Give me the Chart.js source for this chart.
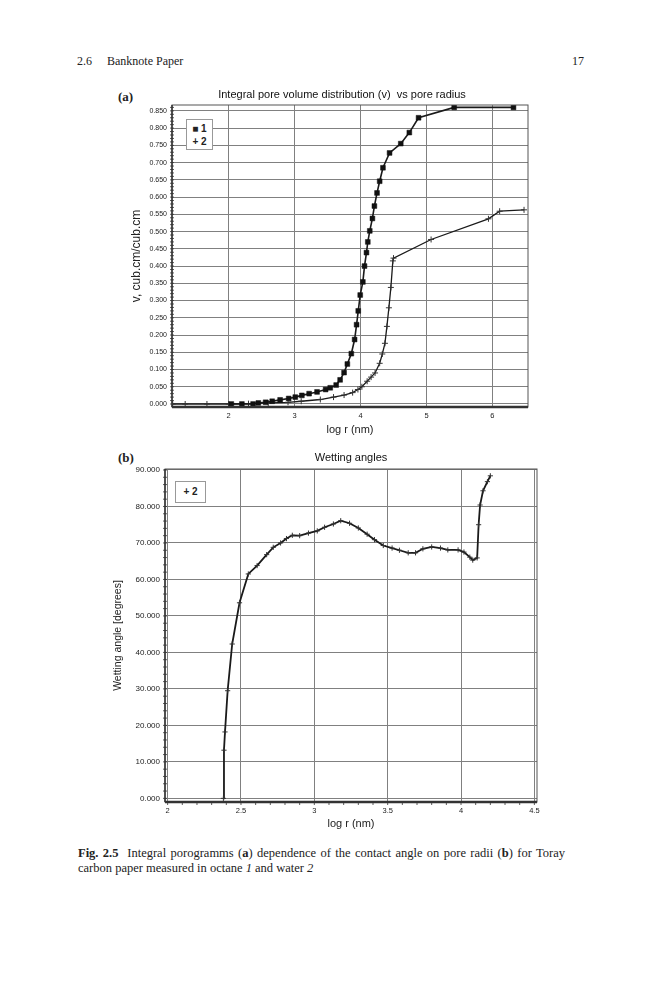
<!DOCTYPE html>
<html>
<head>
<meta charset="utf-8">
<script src="https://cdn.jsdelivr.net/npm/chart.js@4.4.1/dist/chart.umd.min.js"></script>
<style>
  body { margin: 0; background: #fff; }
  #page { position: relative; width: 659px; height: 1000px; overflow: hidden; font-family: "Liberation Serif", "Times New Roman", serif; color: #222; }
  .abs { position: absolute; white-space: nowrap; }
  canvas { position: absolute; }
  .lab { font-weight: bold; font-size: 13px; line-height: 15px; }
  .legend { position: absolute; background: #fff; border: 1px solid #999; font-family: "Liberation Sans", Arial, sans-serif; font-weight: bold; color: #222; text-align: center; box-sizing: border-box; }
  .cap { position: absolute; left: 78px; width: 487px; font-size: 12.5px; line-height: 14.5px; white-space: nowrap; }
</style>
</head>
<body>
<div id="page">
  <div class="abs" style="left:77px; top:54px; font-size:12px; line-height:14px;"><span style="margin-right:15px">2.6</span>Banknote Paper</div>
  <div class="abs" style="left:572px; top:54px; font-size:12px; line-height:14px;">17</div>

  <div class="abs lab" style="left:118px; top:89px;">(a)</div>
  <canvas id="poreVolume" width="484" height="355" style="left:100px; top:85px;"></canvas>
  <div class="legend" style="left:186px; top:119px; width:27px; height:31px; font-size:10px; line-height:13px; padding-top:2px;">&#9632; 1<br>+ 2</div>

  <div class="abs lab" style="left:118px; top:450px;">(b)</div>
  <canvas id="wetting" width="500" height="388" style="left:100px; top:446px;"></canvas>
  <div class="legend" style="left:175px; top:481px; width:31px; height:22px; font-size:10px; line-height:20px;">+ 2</div>

  <div class="cap" style="top:846px; text-align:justify; text-align-last:justify;"><b>Fig. 2.5</b>&nbsp; Integral porogramms (<b>a</b>) dependence of the contact angle on pore radii (<b>b</b>) for Toray</div>
  <div class="cap" style="top:860.5px;">carbon paper measured in octane <i>1</i> and water <i>2</i></div>
</div>

<script>
// (a) integral pore volume, series 1 (octane) and 2 (water)
const octaneLogR = [2.04, 2.20, 2.37, 2.45, 2.56, 2.66, 2.78, 2.91, 3.01, 3.11, 3.22, 3.34, 3.47, 3.54, 3.63, 3.69, 3.75, 3.80, 3.86, 3.91,
  3.94, 3.965, 3.995, 4.035, 4.06, 4.09, 4.11, 4.14, 4.18, 4.21, 4.25, 4.29, 4.34, 4.44, 4.61, 4.74, 4.88, 5.42, 6.32];
const octaneVol = [0, 0, 0, 0.003, 0.005, 0.008, 0.012, 0.016, 0.020, 0.025, 0.030, 0.035, 0.042, 0.047, 0.055, 0.070, 0.091, 0.116, 0.146, 0.187,
  0.230, 0.270, 0.316, 0.354, 0.400, 0.439, 0.470, 0.502, 0.538, 0.574, 0.612, 0.646, 0.685, 0.728, 0.755, 0.787, 0.830, 0.860, 0.860];

const waterLogR = [1.15, 1.34, 1.67, 2.0, 2.3, 2.6, 2.9, 3.1, 3.39, 3.59, 3.75, 3.88, 3.96, 4.02, 4.10, 4.16, 4.22, 4.29, 4.33, 4.37,
  4.40, 4.43, 4.46, 4.49, 4.50, 5.07, 5.94, 6.11, 6.48];
const waterVol = [0, 0, 0, 0, 0.001, 0.003, 0.005, 0.008, 0.013, 0.020, 0.026, 0.033, 0.042, 0.050, 0.066, 0.078, 0.090, 0.118, 0.145, 0.176,
  0.225, 0.279, 0.338, 0.415, 0.423, 0.477, 0.537, 0.559, 0.563];

const xTicksA = [2, 3, 4, 5, 6];
const yTicksA = [0, 0.05, 0.10, 0.15, 0.20, 0.25, 0.30, 0.35, 0.40, 0.45, 0.50, 0.55, 0.60, 0.65, 0.70, 0.75, 0.80, 0.85];

// (b) wetting angles, water
const angleLogR = [2.38, 2.384, 2.391, 2.409, 2.44, 2.49, 2.55, 2.61, 2.675, 2.72, 2.77, 2.81, 2.85, 2.90, 2.96, 3.02, 3.07, 3.13, 3.18, 3.24,
  3.30, 3.36, 3.41, 3.47, 3.53, 3.58, 3.64, 3.69, 3.74, 3.80, 3.86, 3.91, 3.98, 4.02, 4.06, 4.08, 4.11, 4.12, 4.13, 4.15, 4.18, 4.20];
const angleDeg = [0, 13.2, 18.2, 29.5, 42.3, 53.6, 61.5, 63.8, 66.8, 68.8, 70.0, 71.2, 72.1, 72.0, 72.7, 73.3, 74.3, 75.2, 76.1, 75.4,
  74.1, 72.4, 70.9, 69.3, 68.6, 68.0, 67.3, 67.3, 68.4, 68.9, 68.6, 68.1, 68.1, 67.5, 66.1, 65.3, 65.9, 75.0, 80.4, 84.3, 86.8, 88.4];

const xTicksB = [2, 2.5, 3, 3.5, 4, 4.5];
const yTicksB = [0, 10, 20, 30, 40, 50, 60, 70, 80, 90];

const sans = '"Liberation Sans", Arial, sans-serif';
const ink = '#222';

function points(xs, ys) {
  return xs.map((x, i) => ({ x: x, y: ys[i] }));
}

// plot frame, heavy bottom axis and the small ruler ticks along the axes
const framePlugin = {
  id: 'frame',
  afterDraw(chart, args, o) {
    const ctx = chart.ctx;
    const a = chart.chartArea;
    const sx = chart.scales.x, sy = chart.scales.y;
    ctx.save();
    ctx.strokeStyle = '#555';
    ctx.lineWidth = 1;
    ctx.strokeRect(a.left, a.top, a.right - a.left, a.bottom - a.top);
    ctx.strokeStyle = '#333';
    ctx.lineWidth = o.bottomWidth;
    ctx.beginPath();
    ctx.moveTo(a.left, a.bottom);
    ctx.lineTo(a.right, a.bottom);
    ctx.stroke();
    ctx.lineWidth = 1.5;
    ctx.beginPath();
    ctx.moveTo(a.left, a.top);
    ctx.lineTo(a.left, a.bottom);
    ctx.stroke();
    ctx.lineWidth = 0.8;
    ctx.beginPath();
    for (let v = o.yMinor[0]; v <= o.yMinor[1] + 1e-9; v += o.yMinor[2]) {
      const y = sy.getPixelForValue(v);
      ctx.moveTo(a.left - 2, y);
      ctx.lineTo(a.left + 2, y);
    }
    if (o.xMinor) {
      for (let v = o.xMinor[0]; v <= o.xMinor[1] + 1e-9; v += o.xMinor[2]) {
        const x = sx.getPixelForValue(v);
        ctx.moveTo(x, a.bottom);
        ctx.lineTo(x, a.bottom + 3);
      }
    }
    ctx.stroke();
    ctx.restore();
  }
};

function axisX(min, max, tickList, height, size) {
  return {
    type: 'linear', min: min, max: max,
    afterBuildTicks: s => { s.ticks = tickList.map(v => ({ value: v })); },
    afterFit: s => { s.height = height; },
    grid: { color: '#808080', lineWidth: 1, drawTicks: false },
    border: { display: false },
    ticks: { font: { family: sans, size: size }, color: ink, padding: 4, maxRotation: 0, autoSkip: false, callback: v => String(v) },
    title: { display: true, text: 'log r (nm)', font: { family: sans, size: 11 }, color: ink, padding: { top: 0, bottom: 3.4 } }
  };
}

function axisY(min, max, tickList, width, size, text, titleSize, titlePad) {
  return {
    min: min, max: max,
    afterBuildTicks: s => { s.ticks = tickList.map(v => ({ value: v })); },
    afterFit: s => { s.width = width; },
    grid: { color: '#808080', lineWidth: 1, drawTicks: false },
    border: { display: false },
    ticks: { font: { family: sans, size: size }, color: ink, padding: 5, autoSkip: false, callback: v => v.toFixed(3) },
    title: { display: true, text: text, font: { family: sans, size: titleSize }, color: ink, padding: { top: titlePad, bottom: 0 } }
  };
}

new Chart(document.getElementById('poreVolume'), {
  type: 'line',
  data: {
    datasets: [
      {
        label: '1',
        data: points(octaneLogR, octaneVol),
        borderColor: '#1a1a1a', borderWidth: 1.6,
        pointStyle: 'rect', pointRadius: 3.4, pointBackgroundColor: '#111', pointBorderColor: '#111', pointBorderWidth: 0.5
      },
      {
        label: '2',
        data: points(waterLogR, waterVol),
        borderColor: '#1a1a1a', borderWidth: 1.3,
        pointStyle: 'cross', pointRadius: 3, pointBorderColor: '#333', pointBorderWidth: 1
      }
    ]
  },
  options: {
    responsive: false,
    animation: false,
    events: [],
    layout: { padding: 0 },
    scales: {
      x: axisX(1.14, 6.54, xTicksA, 33, 7.5),
      y: axisY(-0.0087, 0.867, yTicksA, 72, 7, 'v, cub.cm/cub.cm', 12, 29),
      // empty right-hand box, keeps the plot narrow while the title stays centred on the canvas
      spacer: {
        position: 'right', min: 0, max: 1,
        afterFit: s => { s.width = 56; },
        ticks: { display: false }, grid: { display: false, drawTicks: false }, border: { display: false }
      }
    },
    plugins: {
      legend: { display: false },
      tooltip: { enabled: false },
      title: {
        display: true, text: 'Integral pore volume distribution (v)  vs pore radius',
        font: { family: sans, size: 11, weight: 'normal' }, color: '#111', padding: { top: 3.4, bottom: 3.4 }
      },
      frame: { bottomWidth: 2.5, yMinor: [0, 0.86, 0.01] }
    }
  },
  plugins: [framePlugin]
});

new Chart(document.getElementById('wetting'), {
  type: 'line',
  data: {
    datasets: [
      {
        label: '2',
        data: points(angleLogR, angleDeg),
        borderColor: '#1a1a1a', borderWidth: 1.8,
        pointStyle: 'cross', pointRadius: 2.6, pointBorderColor: '#333', pointBorderWidth: 1
      }
    ]
  },
  options: {
    responsive: false,
    animation: false,
    events: [],
    layout: { padding: { left: 0, right: 63, top: 0, bottom: 0 } },
    scales: {
      x: axisX(1.982, 4.518, xTicksB, 32, 7.5),
      y: axisY(-1.0, 90.27, yTicksB, 65, 8, 'Wetting angle [degrees]', 10.5, 11.4)
    },
    plugins: {
      legend: { display: false },
      tooltip: { enabled: false },
      title: {
        display: true, fullSize: false, text: 'Wetting angles',
        font: { family: sans, size: 11, weight: 'normal' }, color: '#111', padding: { top: 5.4, bottom: 4.4 }
      },
      frame: { bottomWidth: 2.5, yMinor: [0, 90, 2], xMinor: [2, 4.5, 0.1] }
    }
  },
  plugins: [framePlugin]
});
</script>
</body>
</html>
